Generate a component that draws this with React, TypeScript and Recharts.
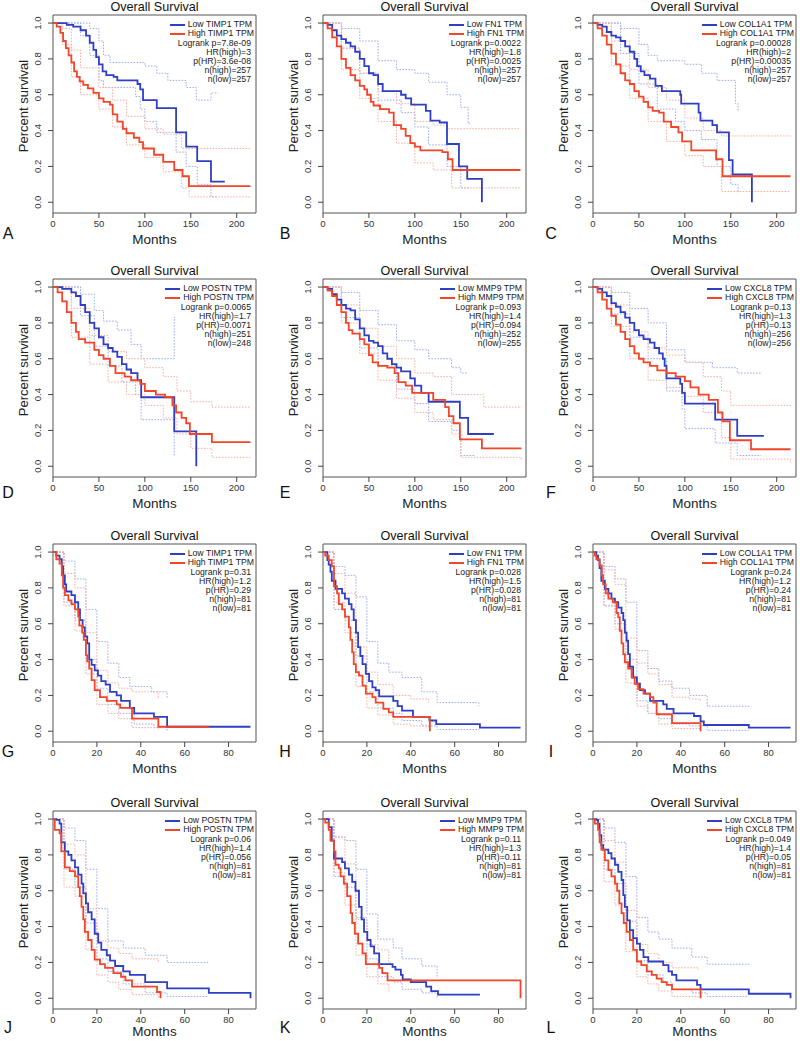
import React from "react";
import { LineChart, Line, XAxis, YAxis, ReferenceArea } from "recharts";

type Pt = [number, number];

// panel text
const panelLetters = ["A", "B", "C", "D", "E", "F", "G", "H", "I", "J", "K", "L"];
const genes = ["TIMP1", "FN1", "COL1A1", "POSTN", "MMP9", "CXCL8"];
const logrankP = ["7.8e-09", "0.0022", "0.00028", "0.0065", "0.093", "0.13", "0.31", "0.028", "0.24", "0.06", "0.11", "0.049"];
const hrHigh = ["3", "1.8", "2", "1.7", "1.4", "1.3", "1.2", "1.5", "1.2", "1.4", "1.3", "1.4"];
const pHR = ["3.6e-08", "0.0025", "0.00035", "0.0071", "0.094", "0.13", "0.29", "0.028", "0.24", "0.056", "0.11", "0.05"];
const nHigh = [257, 257, 257, 251, 252, 256, 81, 81, 81, 81, 81, 81];
const nLow = [257, 257, 257, 248, 255, 256, 81, 81, 81, 81, 81, 81];

const monthTicksLong = [0, 50, 100, 150, 200];
const monthTicksShort = [0, 20, 40, 60, 80];
const survivalTicks = [0, 0.2, 0.4, 0.6, 0.8, 1.0];

// ---- A: TIMP1 (months, survival) ----
const lowA: Pt[] = [[0,1],[15,0.99],[22,0.98],[30,0.96],[36,0.93],[40,0.89],[44,0.85],[47,0.81],[50,0.77],[54,0.73],[58,0.71],[66,0.70],[70,0.68],[92,0.66],[95,0.63],[98,0.57],[113,0.525],[134,0.39],[145,0.31],[157,0.23],[172,0.115],[187,0.115]];
const highA: Pt[] = [[0,1],[4,0.98],[8,0.945],[11,0.9],[14,0.86],[17,0.82],[20,0.78],[23,0.73],[26,0.7],[29,0.675],[33,0.655],[38,0.635],[44,0.61],[50,0.58],[55,0.56],[62,0.545],[65,0.49],[70,0.45],[76,0.41],[80,0.385],[88,0.36],[94,0.335],[98,0.3],[110,0.265],[120,0.225],[132,0.18],[141,0.145],[148,0.09],[215,0.09]];
const lowUpA: Pt[] = [[0,1],[40,0.97],[50,0.9],[55,0.82],[62,0.78],[100,0.76],[113,0.72],[125,0.68],[145,0.64],[156,0.57],[172,0.61],[180,0.61]];
const lowDnA: Pt[] = [[0,1],[30,0.93],[40,0.82],[50,0.68],[55,0.64],[90,0.59],[95,0.52],[100,0.45],[113,0.39],[134,0.28],[145,0.2],[157,0.1],[172,0.03],[180,0.03]];
const highUpA: Pt[] = [[0,1],[10,0.97],[20,0.85],[30,0.75],[50,0.64],[65,0.57],[80,0.48],[100,0.41],[120,0.38],[140,0.3],[215,0.3]];
const highDnA: Pt[] = [[0,1],[10,0.88],[20,0.7],[30,0.6],[50,0.52],[65,0.42],[80,0.32],[100,0.25],[120,0.17],[140,0.08],[148,0.03],[215,0.03]];

// ---- B: FN1 ----
const lowB: Pt[] = [[0,1],[5,0.99],[10,0.96],[15,0.93],[20,0.91],[25,0.89],[30,0.87],[35,0.84],[40,0.8],[45,0.76],[50,0.72],[55,0.71],[60,0.66],[65,0.62],[85,0.6],[90,0.58],[96,0.545],[108,0.545],[112,0.51],[117,0.455],[127,0.445],[135,0.325],[148,0.2],[157,0.13],[173,0]];
const highB: Pt[] = [[0,1],[5,0.97],[10,0.92],[15,0.87],[20,0.8],[25,0.75],[30,0.71],[35,0.68],[40,0.65],[45,0.63],[48,0.6],[52,0.56],[55,0.54],[62,0.52],[72,0.5],[77,0.43],[85,0.41],[90,0.37],[95,0.33],[100,0.31],[106,0.29],[130,0.28],[136,0.24],[141,0.18],[215,0.18]];
const lowUpB: Pt[] = [[0,1],[20,0.97],[40,0.9],[60,0.79],[80,0.74],[100,0.72],[115,0.67],[135,0.6],[150,0.53],[158,0.44],[160,0.44]];
const lowDnB: Pt[] = [[0,1],[20,0.86],[40,0.72],[60,0.57],[85,0.5],[100,0.42],[115,0.32],[135,0.2],[150,0.08],[160,0.08]];
const highUpB: Pt[] = [[0,1],[20,0.86],[40,0.72],[60,0.62],[80,0.55],[100,0.45],[120,0.43],[135,0.41],[215,0.41]];
const highDnB: Pt[] = [[0,1],[20,0.74],[40,0.58],[60,0.45],[80,0.33],[100,0.22],[120,0.18],[140,0.08],[215,0.08]];

// ---- C: COL1A1 ----
const lowC: Pt[] = [[0,1],[5,0.99],[10,0.98],[15,0.95],[20,0.93],[25,0.92],[30,0.9],[35,0.87],[40,0.84],[45,0.8],[48,0.76],[52,0.73],[56,0.71],[62,0.69],[68,0.65],[75,0.62],[95,0.6],[96,0.55],[115,0.5],[117,0.455],[130,0.43],[135,0.39],[148,0.235],[152,0.155],[173,0]];
const highC: Pt[] = [[0,1],[5,0.97],[10,0.93],[15,0.88],[20,0.83],[25,0.77],[30,0.72],[35,0.68],[40,0.66],[45,0.62],[50,0.59],[55,0.56],[60,0.53],[65,0.51],[72,0.5],[77,0.45],[85,0.42],[93,0.39],[97,0.34],[107,0.29],[134,0.24],[141,0.145],[215,0.145]];
const lowUpC: Pt[] = [[0,1],[30,0.97],[50,0.88],[60,0.82],[70,0.79],[100,0.77],[118,0.72],[135,0.68],[155,0.55],[158,0.51]];
const lowDnC: Pt[] = [[0,1],[30,0.83],[50,0.66],[70,0.52],[90,0.45],[100,0.4],[118,0.35],[135,0.2],[150,0.1],[158,0.05]];
const highUpC: Pt[] = [[0,1],[20,0.9],[40,0.74],[60,0.64],[80,0.57],[100,0.47],[120,0.4],[140,0.37],[215,0.37]];
const highDnC: Pt[] = [[0,1],[20,0.76],[40,0.58],[60,0.45],[80,0.34],[100,0.26],[120,0.2],[140,0.06],[215,0.06]];

// ---- D: POSTN ----
const lowD: Pt[] = [[0,1],[10,0.99],[20,0.97],[25,0.95],[30,0.9],[35,0.86],[40,0.8],[45,0.77],[50,0.72],[55,0.68],[60,0.66],[65,0.64],[70,0.61],[75,0.57],[80,0.54],[85,0.52],[92,0.48],[96,0.385],[132,0.195],[156,0]];
const highD: Pt[] = [[0,1],[5,0.97],[10,0.92],[15,0.86],[20,0.8],[25,0.75],[28,0.71],[35,0.69],[45,0.65],[50,0.62],[55,0.6],[62,0.56],[68,0.52],[78,0.5],[85,0.48],[95,0.46],[100,0.42],[112,0.4],[122,0.385],[130,0.34],[134,0.3],[140,0.27],[145,0.24],[149,0.18],[173,0.135],[215,0.135]];
const lowUpD: Pt[] = [[0,1],[30,0.96],[45,0.87],[55,0.81],[70,0.76],[85,0.68],[96,0.6],[132,0.83],[133,0.83]];
const lowDnD: Pt[] = [[0,1],[30,0.84],[45,0.67],[60,0.56],[75,0.47],[90,0.4],[96,0.26],[132,0.06],[133,0.06]];
const highUpD: Pt[] = [[0,1],[20,0.88],[40,0.73],[60,0.64],[80,0.6],[100,0.55],[120,0.5],[135,0.42],[150,0.36],[173,0.33],[215,0.33]];
const highDnD: Pt[] = [[0,1],[20,0.72],[40,0.57],[60,0.47],[80,0.4],[100,0.34],[120,0.27],[135,0.18],[150,0.1],[173,0.05],[215,0.05]];

// ---- E: MMP9 ----
const lowE: Pt[] = [[0,1],[5,0.99],[10,0.96],[15,0.93],[20,0.9],[25,0.88],[30,0.87],[35,0.82],[40,0.77],[45,0.73],[50,0.7],[55,0.69],[60,0.67],[65,0.63],[70,0.6],[75,0.57],[80,0.55],[85,0.53],[95,0.49],[100,0.45],[107,0.41],[115,0.36],[149,0.27],[158,0.18],[186,0.18]];
const highE: Pt[] = [[0,1],[5,0.98],[10,0.95],[15,0.9],[20,0.86],[25,0.8],[28,0.76],[32,0.74],[40,0.71],[45,0.68],[50,0.62],[54,0.58],[60,0.56],[70,0.55],[78,0.52],[82,0.47],[90,0.45],[97,0.41],[120,0.37],[133,0.33],[137,0.28],[142,0.24],[149,0.15],[173,0.1],[216,0.1]];
const lowUpE: Pt[] = [[0,1],[20,0.97],[40,0.87],[60,0.79],[80,0.7],[100,0.65],[115,0.6],[140,0.55],[150,0.52],[158,0.52]];
const lowDnE: Pt[] = [[0,1],[20,0.83],[40,0.66],[60,0.56],[80,0.43],[100,0.35],[115,0.25],[140,0.2],[150,0.06],[165,0.06]];
const highUpE: Pt[] = [[0,1],[20,0.9],[40,0.77],[60,0.67],[80,0.6],[100,0.52],[120,0.5],[140,0.4],[175,0.33],[216,0.33]];
const highDnE: Pt[] = [[0,1],[20,0.8],[40,0.63],[60,0.48],[80,0.38],[100,0.3],[120,0.26],[140,0.18],[150,0.05],[216,0.03]];

// ---- F: CXCL8 ----
const lowF: Pt[] = [[0,1],[5,0.99],[10,0.97],[15,0.95],[20,0.91],[25,0.89],[30,0.86],[35,0.83],[40,0.8],[45,0.76],[50,0.73],[55,0.71],[62,0.69],[67,0.66],[72,0.63],[76,0.6],[78,0.56],[80,0.49],[95,0.46],[97,0.41],[100,0.35],[133,0.26],[157,0.17],[186,0.17]];
const highF: Pt[] = [[0,1],[5,0.97],[10,0.93],[15,0.88],[20,0.84],[25,0.79],[30,0.75],[35,0.71],[40,0.67],[45,0.63],[50,0.6],[55,0.58],[62,0.56],[70,0.535],[80,0.52],[90,0.5],[100,0.475],[106,0.44],[115,0.4],[126,0.37],[136,0.3],[141,0.25],[149,0.145],[172,0.095],[215,0.095]];
const lowUpF: Pt[] = [[0,1],[20,0.97],[40,0.88],[60,0.8],[80,0.65],[100,0.58],[130,0.55],[157,0.52],[183,0.52]];
const lowDnF: Pt[] = [[0,1],[20,0.85],[40,0.72],[60,0.6],[80,0.42],[97,0.32],[100,0.21],[133,0.13],[157,0.06],[183,0.06]];
const highUpF: Pt[] = [[0,1],[20,0.9],[40,0.75],[60,0.66],[80,0.62],[100,0.58],[120,0.5],[140,0.42],[150,0.34],[215,0.33]];
const highDnF: Pt[] = [[0,1],[20,0.78],[40,0.6],[60,0.48],[80,0.44],[100,0.39],[120,0.3],[140,0.16],[150,0.04],[215,0.02]];

// ---- G: TIMP1 ----
const lowG: Pt[] = [[0,1],[1.5,0.98],[3,0.96],[4,0.92],[4.6,0.87],[5.4,0.82],[6,0.78],[8.4,0.76],[10,0.72],[11.5,0.68],[12.3,0.62],[13.5,0.58],[14.5,0.53],[15.6,0.49],[16.5,0.4],[17.6,0.37],[19,0.34],[20.5,0.31],[22,0.28],[24,0.26],[26,0.22],[29,0.2],[31,0.17],[35,0.13],[37,0.1],[46,0.08],[52,0.025],[90,0.025]];
const highG: Pt[] = [[0,1],[1.5,0.96],[3,0.935],[4,0.87],[4.6,0.8],[5.4,0.76],[7,0.73],[8.4,0.71],[10,0.68],[11.5,0.64],[12,0.59],[13.3,0.55],[14,0.51],[15,0.425],[15.6,0.39],[16.5,0.35],[17.6,0.285],[19,0.23],[21.4,0.19],[24.5,0.17],[29,0.15],[30.6,0.13],[36,0.07],[48,0.025],[71,0.025]];
const lowUpG: Pt[] = [[0,1],[5,0.95],[10,0.85],[15,0.68],[20,0.5],[25,0.38],[30,0.3],[35,0.25],[45,0.22],[52,0.18]];
const lowDnG: Pt[] = [[0,1],[5,0.72],[10,0.62],[15,0.4],[20,0.24],[25,0.15],[30,0.1],[37,0.04],[46,0.02],[52,0.005]];
const highUpG: Pt[] = [[0,1],[5,0.88],[10,0.8],[15,0.55],[20,0.34],[25,0.27],[30,0.24],[36,0.22],[48,0.18]];
const highDnG: Pt[] = [[0,1],[5,0.7],[10,0.56],[15,0.32],[20,0.15],[25,0.1],[30,0.07],[36,0.02],[48,0.01]];

// ---- H: FN1 ----
const lowH: Pt[] = [[0,1],[2,0.955],[2.6,0.93],[3.4,0.89],[4,0.84],[5.7,0.795],[8.7,0.77],[10,0.74],[11.8,0.71],[13,0.68],[14,0.62],[15,0.55],[16,0.47],[17,0.42],[18,0.375],[19.5,0.32],[21,0.28],[22.5,0.245],[24,0.23],[25.6,0.195],[32,0.17],[34,0.14],[36,0.115],[41,0.08],[48.5,0.06],[51.6,0.04],[71.5,0.02],[90,0.02]];
const highH: Pt[] = [[0,1],[1,0.98],[2.6,0.955],[4,0.92],[5,0.81],[6.4,0.77],[7.2,0.71],[8.7,0.68],[10,0.64],[11.8,0.58],[12.5,0.51],[13.3,0.44],[14,0.375],[15,0.33],[16.4,0.31],[18,0.255],[19.5,0.21],[22.5,0.19],[24,0.16],[27.5,0.125],[30,0.105],[32,0.08],[48.6,0.08],[48.7,0]];
const lowUpH: Pt[] = [[0,1],[5,0.92],[10,0.87],[15,0.75],[20,0.5],[25,0.38],[30,0.33],[36,0.3],[45,0.22],[52,0.16],[71,0.14]];
const lowDnH: Pt[] = [[0,1],[5,0.68],[10,0.62],[15,0.42],[20,0.22],[25,0.13],[32,0.1],[36,0.06],[45,0.03],[52,0.01],[71,0.005]];
const highUpH: Pt[] = [[0,1],[5,0.88],[10,0.77],[15,0.47],[20,0.33],[25,0.26],[32,0.2],[40,0.18],[48,0.16]];
const highDnH: Pt[] = [[0,1],[5,0.72],[10,0.55],[15,0.25],[20,0.13],[25,0.09],[32,0.04],[40,0.03],[48,0.02]];

// ---- I: COL1A1 ----
const lowI: Pt[] = [[0,1],[1.5,0.98],[2.3,0.955],[3,0.91],[3.8,0.84],[5.4,0.795],[7,0.77],[8.4,0.74],[10,0.72],[11.5,0.69],[13,0.66],[13.8,0.62],[14.5,0.55],[15.3,0.505],[16,0.43],[16.8,0.36],[18.3,0.3],[20,0.265],[21.4,0.23],[23.7,0.21],[26,0.17],[32,0.15],[33.6,0.125],[36.7,0.1],[46,0.085],[49,0.055],[50.5,0.035],[71,0.02],[90,0.02]];
const highI: Pt[] = [[0,1],[0.8,0.98],[1.5,0.96],[3,0.925],[4,0.87],[4.6,0.82],[5.8,0.77],[7,0.74],[9,0.72],[10.7,0.66],[11.5,0.635],[12.2,0.56],[13,0.49],[13.8,0.43],[14.5,0.385],[16,0.35],[17.6,0.3],[19,0.265],[20.6,0.235],[23,0.21],[26,0.19],[27.5,0.16],[29,0.095],[36,0.045],[48.8,0.045],[49,0]];
const lowUpI: Pt[] = [[0,1],[5,0.92],[10,0.85],[15,0.72],[20,0.45],[25,0.35],[30,0.28],[36,0.24],[44,0.2],[52,0.14],[71,0.13]];
const lowDnI: Pt[] = [[0,1],[5,0.7],[10,0.6],[15,0.4],[20,0.17],[25,0.1],[30,0.07],[36,0.04],[44,0.03],[52,0.005],[71,0.005]];
const highUpI: Pt[] = [[0,1],[5,0.9],[10,0.82],[15,0.52],[20,0.38],[25,0.32],[30,0.26],[36,0.19],[44,0.18],[49,0.17]];
const highDnI: Pt[] = [[0,1],[5,0.7],[10,0.57],[15,0.27],[20,0.14],[25,0.1],[30,0.04],[36,0.015],[49,0.005]];

// ---- J: POSTN ----
const lowJ: Pt[] = [[0,1],[1.5,0.995],[3,0.975],[3.8,0.87],[5.4,0.82],[7,0.8],[8.4,0.77],[10,0.73],[11.5,0.69],[13,0.64],[13.8,0.585],[15,0.53],[16,0.48],[17.6,0.44],[19,0.36],[20.6,0.31],[22,0.27],[24.5,0.24],[26,0.21],[28.3,0.18],[32,0.15],[35,0.13],[42,0.09],[52,0.055],[71,0.03],[89.8,0.03],[90,0]];
const highJ: Pt[] = [[0,1],[0.8,0.94],[3,0.92],[3.8,0.82],[5.4,0.73],[7.6,0.71],[10,0.68],[11.5,0.62],[12.2,0.57],[13,0.51],[13.8,0.44],[14.5,0.37],[16,0.325],[17.6,0.27],[19,0.215],[21.4,0.19],[23.7,0.17],[27.5,0.14],[31,0.12],[33,0.1],[36,0.065],[47.4,0.035],[48.8,0.035],[49,0]];
const lowUpJ: Pt[] = [[0,1],[5,0.95],[10,0.88],[15,0.72],[20,0.5],[25,0.32],[32,0.28],[42,0.24],[52,0.2],[71,0.2]];
const lowDnJ: Pt[] = [[0,1],[5,0.72],[10,0.62],[15,0.42],[20,0.22],[25,0.15],[32,0.08],[42,0.03],[52,0.01],[71,0.01]];
const highUpJ: Pt[] = [[0,1],[5,0.86],[10,0.8],[15,0.5],[20,0.32],[25,0.28],[30,0.25],[36,0.22],[48,0.2]];
const highDnJ: Pt[] = [[0,1],[5,0.62],[10,0.57],[15,0.27],[20,0.13],[25,0.09],[30,0.05],[36,0.02],[48,0.005]];

// ---- K: MMP9 ----
const lowK: Pt[] = [[0,1],[2.6,0.955],[4,0.88],[5,0.78],[8.7,0.76],[10,0.725],[11.8,0.69],[13.3,0.65],[14.8,0.6],[16.4,0.51],[17.6,0.44],[18.7,0.37],[20.2,0.325],[21.7,0.29],[23.3,0.25],[25.6,0.19],[31.7,0.175],[33,0.16],[35.5,0.13],[36.3,0.105],[40,0.09],[47,0.065],[49.3,0.04],[52.4,0.02],[71.5,0.02]];
const highK: Pt[] = [[0,1],[1,0.98],[2.6,0.94],[3.4,0.88],[5,0.82],[5.7,0.745],[7.2,0.725],[8,0.68],[9.5,0.64],[11,0.57],[12.6,0.475],[13.3,0.42],[14.5,0.36],[16,0.305],[18,0.25],[19.5,0.19],[25.6,0.17],[27,0.14],[29.4,0.1],[89.8,0.1],[90,0]];
const lowUpK: Pt[] = [[0,1],[5,0.9],[10,0.88],[15,0.72],[20,0.47],[25,0.33],[32,0.28],[36,0.22],[45,0.18],[52,0.12]];
const lowDnK: Pt[] = [[0,1],[5,0.68],[10,0.62],[15,0.45],[20,0.22],[25,0.12],[32,0.09],[36,0.05],[45,0.03],[52,0.005]];
const highUpK: Pt[] = [[0,1],[5,0.9],[10,0.75],[15,0.44],[20,0.3],[25,0.27],[30,0.2],[31,0.2]];
const highDnK: Pt[] = [[0,1],[5,0.7],[10,0.52],[15,0.24],[20,0.12],[25,0.08],[30,0.04],[31,0.04]];

// ---- L: CXCL8 ----
const lowL: Pt[] = [[0,1],[1.5,0.995],[2.3,0.975],[3,0.91],[3.8,0.855],[4.6,0.83],[7,0.81],[8.4,0.78],[10,0.745],[11.5,0.705],[13,0.66],[13.8,0.575],[14.5,0.51],[15.6,0.435],[16.8,0.38],[18.3,0.335],[20,0.305],[21.4,0.27],[23,0.23],[25.2,0.205],[32,0.185],[34.4,0.15],[36,0.13],[38,0.1],[47.4,0.075],[49,0.05],[71,0.025],[89.8,0.025],[90,0]];
const highL: Pt[] = [[0,1],[0.8,0.975],[2.3,0.94],[3,0.87],[3.8,0.83],[5.4,0.77],[7,0.715],[8.4,0.68],[10,0.64],[11,0.6],[12,0.53],[13,0.475],[14,0.42],[15.3,0.37],[16.8,0.325],[18.3,0.27],[20,0.205],[22,0.185],[24.5,0.15],[26.8,0.13],[29,0.11],[31.3,0.09],[33.6,0.075],[36,0.05],[48.8,0.05],[49,0]];
const lowUpL: Pt[] = [[0,1],[5,0.95],[10,0.87],[15,0.68],[20,0.45],[25,0.37],[30,0.33],[36,0.28],[45,0.23],[52,0.19],[71,0.18]];
const lowDnL: Pt[] = [[0,1],[5,0.72],[10,0.64],[15,0.43],[20,0.21],[25,0.13],[32,0.09],[36,0.05],[45,0.03],[52,0.01],[71,0.01]];
const highUpL: Pt[] = [[0,1],[5,0.88],[10,0.76],[15,0.49],[20,0.3],[25,0.25],[30,0.2],[36,0.17],[48,0.16]];
const highDnL: Pt[] = [[0,1],[5,0.65],[10,0.52],[15,0.26],[20,0.12],[25,0.08],[30,0.04],[36,0.01],[48,0.005]];

const lowCurves = [lowA, lowB, lowC, lowD, lowE, lowF, lowG, lowH, lowI, lowJ, lowK, lowL];
const highCurves = [highA, highB, highC, highD, highE, highF, highG, highH, highI, highJ, highK, highL];
const lowUpper = [lowUpA, lowUpB, lowUpC, lowUpD, lowUpE, lowUpF, lowUpG, lowUpH, lowUpI, lowUpJ, lowUpK, lowUpL];
const lowLower = [lowDnA, lowDnB, lowDnC, lowDnD, lowDnE, lowDnF, lowDnG, lowDnH, lowDnI, lowDnJ, lowDnK, lowDnL];
const highUpper = [highUpA, highUpB, highUpC, highUpD, highUpE, highUpF, highUpG, highUpH, highUpI, highUpJ, highUpK, highUpL];
const highLower = [highDnA, highDnB, highDnC, highDnD, highDnE, highDnF, highDnG, highDnH, highDnI, highDnJ, highDnK, highDnL];

const FONT = '"Liberation Sans", Arial, Helvetica, sans-serif';
const BLUE = "#2f3fc4";
const RED = "#f2462a";
const BLUE_CI = "#9eacf0";
const RED_CI = "#f6b0a2";

const rowTops = [0, 264, 529, 796];
const letterX = [8, 15, 11];
const letterY = [234, 229, 223, 232];
// bottom row sits at the page edge, so its "Months" label goes up a bit
const monthsOffset = [6, 6, 6, 10];
const Y_MIN = -0.06;
const Y_MAX = 1.045;

const toRows = (pts: Pt[]) => pts.map(([t, s]) => ({ t, s }));

const YTick = (props: any) => {
  const { x, y, payload } = props;
  const tx = x - 4.5;
  return (
    <text x={tx} y={y} transform={`rotate(-90, ${tx}, ${y})`} textAnchor="middle" fontSize={9.5} fill="#333" fontFamily={FONT}>
      {Number(payload.value).toFixed(1)}
    </text>
  );
};

function Panel({ i }: { i: number }) {
  const row = Math.floor(i / 3);
  const col = i % 3;
  const long = i < 6;
  const xMax = long ? 221 : 92.5;
  const gene = genes[i % 6];
  const stats = [
    `Logrank p=${logrankP[i]}`,
    `HR(high)=${hrHigh[i]}`,
    `p(HR)=${pHR[i]}`,
    `n(high)=${nHigh[i]}`,
    `n(low)=${nLow[i]}`,
  ];
  const ci = { strokeWidth: 1, strokeDasharray: "1.6 1.4", dot: false, isAnimationActive: false, type: "stepAfter" as const };

  return (
    <div style={{ position: "absolute", left: col * 270, top: rowTops[row], width: 270, height: 250 }}>
      <LineChart width={270} height={250} margin={{ top: 15, right: 14, bottom: 0, left: 0 }}>
        <XAxis
          dataKey="t"
          type="number"
          domain={[0, xMax]}
          ticks={long ? monthTicksLong : monthTicksShort}
          interval={0}
          allowDataOverflow
          axisLine={false}
          tickSize={5}
          tickLine={{ stroke: "#444" }}
          tick={{ fontSize: 9.5, fill: "#333", fontFamily: FONT }}
          height={37}
          label={{ value: "Months", position: "insideBottom", offset: monthsOffset[row], fontSize: 13.5, fill: "#222", fontFamily: FONT }}
        />
        <YAxis
          type="number"
          domain={[Y_MIN, Y_MAX]}
          ticks={survivalTicks}
          interval={0}
          allowDataOverflow
          axisLine={false}
          width={53}
          tickSize={5}
          tickLine={{ stroke: "#444" }}
          tick={(p: any) => <YTick {...p} />}
        />
        <ReferenceArea x1={0} x2={xMax} y1={Y_MIN} y2={Y_MAX} fill="none" stroke="#555" strokeWidth={1} ifOverflow="visible" />
        <Line data={toRows(lowUpper[i])} dataKey="s" stroke={BLUE_CI} {...ci} />
        <Line data={toRows(lowLower[i])} dataKey="s" stroke={BLUE_CI} {...ci} />
        <Line data={toRows(highUpper[i])} dataKey="s" stroke={RED_CI} {...ci} />
        <Line data={toRows(highLower[i])} dataKey="s" stroke={RED_CI} {...ci} />
        <Line data={toRows(lowCurves[i])} dataKey="s" type="stepAfter" stroke={BLUE} strokeWidth={1.8} dot={false} isAnimationActive={false} />
        <Line data={toRows(highCurves[i])} dataKey="s" type="stepAfter" stroke={RED} strokeWidth={1.8} dot={false} isAnimationActive={false} />
      </LineChart>

      <div style={{ position: "absolute", left: 53, width: 203, top: 0, height: 14, lineHeight: "14px", textAlign: "center", fontSize: 12.6, color: "#111" }}>
        Overall Survival
      </div>
      <div style={{ position: "absolute", left: 23, top: 106, transform: "translate(-50%, -50%) rotate(-90deg)", whiteSpace: "nowrap", fontSize: 13, color: "#222" }}>
        Percent survival
      </div>
      <div style={{ position: "absolute", left: letterX[col], top: letterY[row], transform: "translate(-50%, -50%)", fontSize: 16, color: "#111" }}>
        {panelLetters[i]}
      </div>

      <div style={{ position: "absolute", right: 16, top: 20.5, display: "flex", flexDirection: "column", alignItems: "flex-end", fontSize: 8.7, lineHeight: "9px", color: "#222" }}>
        <div>
          {[["Low", BLUE], ["High", RED]].map(([k, c]) => (
            <div key={k} style={{ display: "flex", alignItems: "center", height: 8.7, whiteSpace: "nowrap" }}>
              <span style={{ display: "inline-block", width: 15, height: 2, background: c, marginRight: 3 }} />
              <span>{`${k} ${gene} TPM`}</span>
            </div>
          ))}
        </div>
        <div style={{ textAlign: "right", paddingRight: 3, marginTop: 1, whiteSpace: "nowrap" }}>
          {stats.map((s) => (
            <div key={s}>{s}</div>
          ))}
        </div>
      </div>
    </div>
  );
}

export default function App() {
  return (
    <div style={{ position: "absolute", left: 0, top: 0, width: 800, height: 1041, overflow: "hidden", background: "#fff", fontFamily: FONT }}>
      {panelLetters.map((_, i) => (
        <Panel key={i} i={i} />
      ))}
    </div>
  );
}
